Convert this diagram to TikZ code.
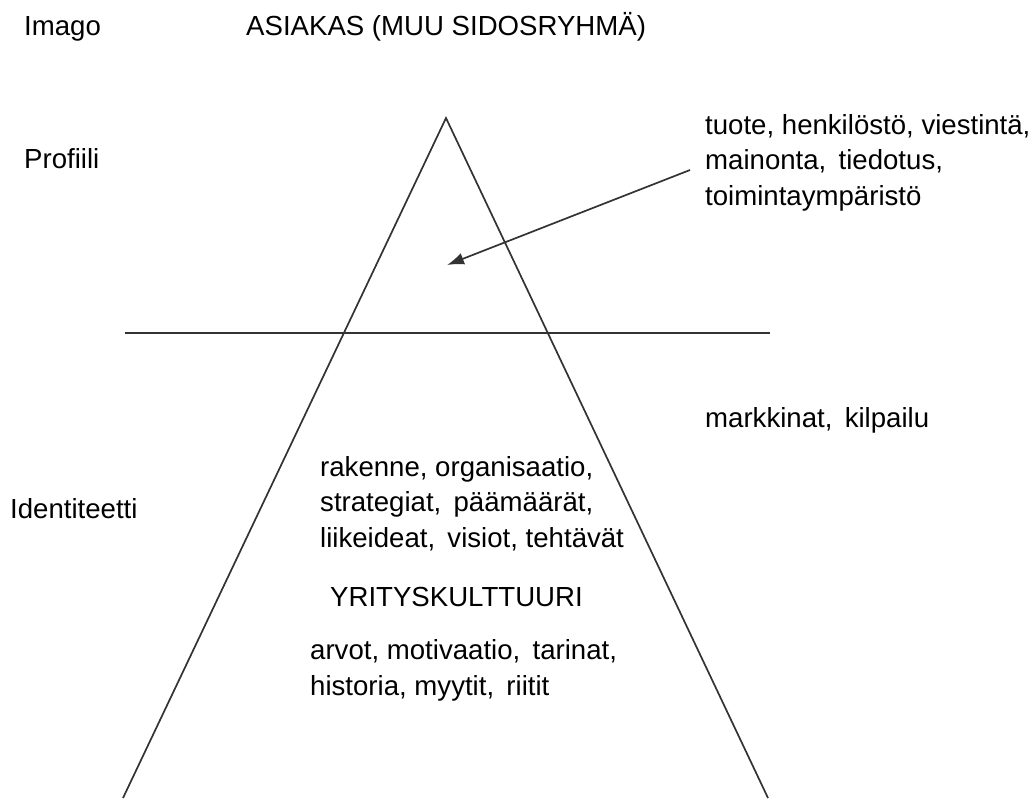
\documentclass[tikz,border=0pt]{standalone}
\usepackage{fontspec}
\setmainfont{Liberation Sans}
\usetikzlibrary{arrows.meta}
\begin{document}
\begin{tikzpicture}[x=1pt,y=-1pt,
  lbl/.style={anchor=base west,inner sep=0pt,font=\fontsize{27.6}{35.2}\selectfont,align=left},
  edge/.style={line width=1.7pt,draw=black!80}]
\useasboundingbox (0,0) rectangle (1033,798);
% pyramid corners and divider ends
\coordinate (apex) at (446,118);
\coordinate (bl) at (123,798);
\coordinate (br) at (768,798);
\coordinate (hl) at (125,333);
\coordinate (hr) at (770,333);
\draw[edge] (bl) -- (apex) -- (br);
\draw[edge] (hl) -- (hr);
% labels (multi-line blocks are placed by the baseline of their last line)
\node[lbl] (imago) at (24,35) {Imago};
\node[lbl] (asiakas) at (246,35) {ASIAKAS (MUU SIDOSRYHMÄ)};
\node[lbl] (profiili) at (24,168) {Profiili};
\node[lbl] (tuote) at (705,205) {tuote, henkilöstö, viestintä,\\mainonta,\, tiedotus,\\toimintaympäristö};
\node[lbl] (markkinat) at (705,427) {markkinat,\, kilpailu};
\node[lbl] (ident) at (10,518) {Identiteetti};
\node[lbl] (rakenne) at (320,547) {rakenne, organisaatio,\\strategiat,\, päämäärät,\\liikeideat,\, visiot, tehtävät};
\node[lbl] (kult) at (330,606) {YRITYSKULTTUURI};
\node[lbl] (arvot) at (310,695) {arvot, motivaatio,\, tarinat,\\historia, myytit,\, riitit};
% pointer from the profile factors into the pyramid
\coordinate (tail) at (690,170);
\coordinate (tip) at (447,265);
\draw[edge,-{Latex[length=17pt,width=12pt]}] (tail) -- (tip);
\end{tikzpicture}
\end{document}
